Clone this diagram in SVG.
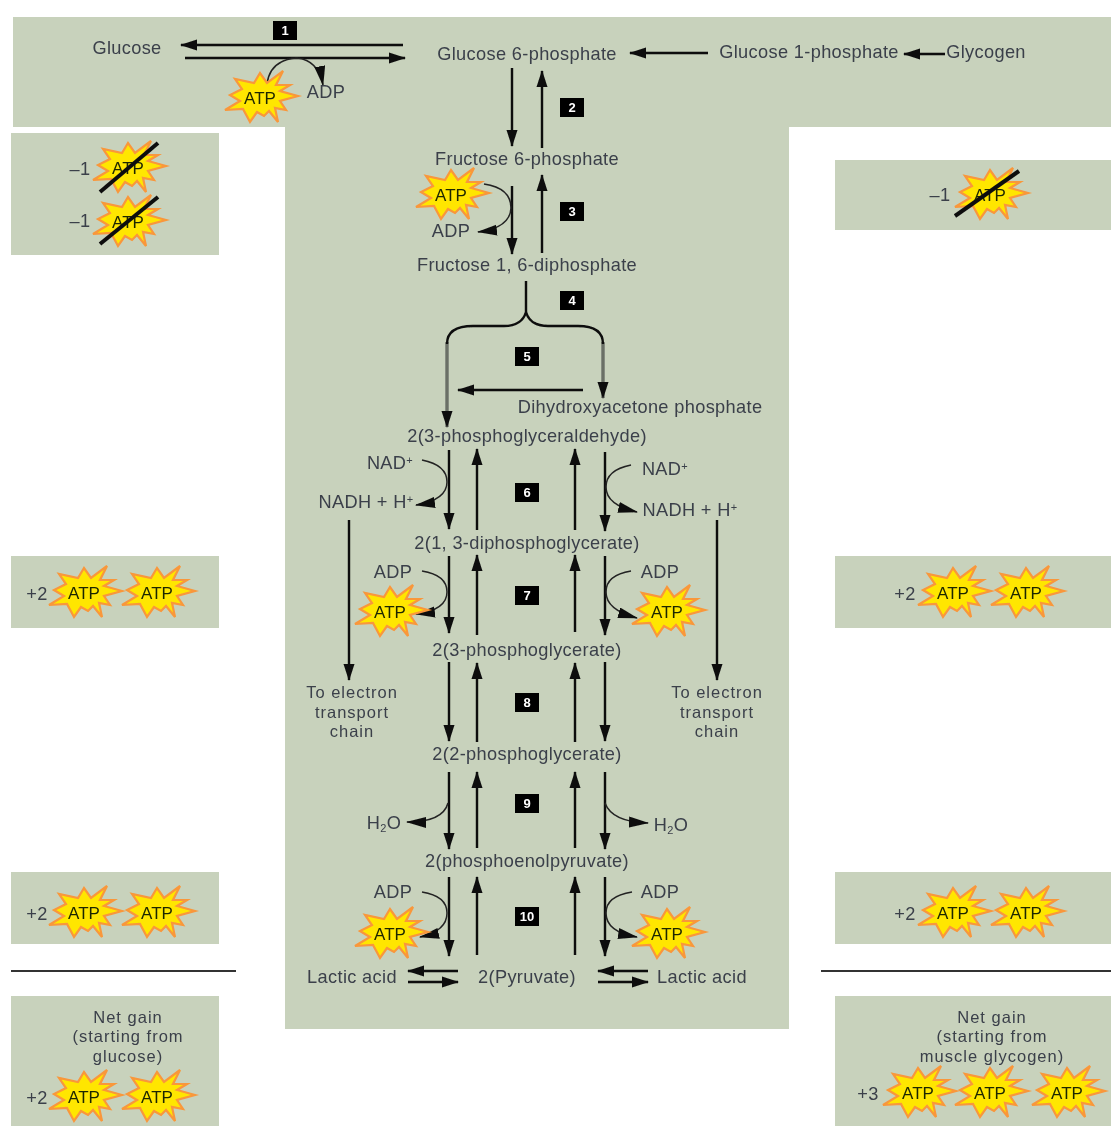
<svg xmlns="http://www.w3.org/2000/svg" width="1111" height="1126" viewBox="0 0 1111 1126">
<style>
.p{fill:#c8d2bc}
text{font-family:"Liberation Sans",Arial,sans-serif;font-size:18.2px;letter-spacing:.35px;fill:#3a3f4a;text-anchor:middle}
.t{font-size:16.5px;letter-spacing:1px}
.a{font-size:17px;letter-spacing:0;fill:#1c2600}
.n{font-size:13px;letter-spacing:0;font-weight:bold;fill:#fff}
.sq{fill:#000}
.l{fill:none;stroke:#111;stroke-width:2.4}
.g{fill:none;stroke:#6a6f66;stroke-width:3.4}
.c{fill:none;stroke:#222;stroke-width:1.5}
.s{stroke:#111;stroke-width:4}
.d{stroke:#333;stroke-width:2}
.star{fill:#ffe600;stroke:#f9973a;stroke-width:2.2;stroke-linejoin:miter}
</style>
<defs>
<marker id="m" markerUnits="userSpaceOnUse" markerWidth="17" markerHeight="12" refX="16" refY="6" orient="auto"><path d="M0,0.5L17,6L0,11.5Z" fill="#111"/></marker>
<marker id="mc" markerUnits="userSpaceOnUse" markerWidth="20" markerHeight="12" refX="19" refY="6" orient="auto"><path d="M0,0L20,6L0,11Z" fill="#111"/></marker>
<filter id="b" x="-5%" y="-5%" width="110%" height="110%"><feGaussianBlur stdDeviation="0.5"/></filter>
<polygon id="st" class="star" points="38,-2 20,-7 30,-13 16,-13 23,-27 7,-15 0,-25 -6,-15 -25,-19 -18,-9 -30,-3 -20,3 -35,12 -17,11 -10,24 -3,14 4,18 9,13 18,24 15,10 26,12 20,3"/>
</defs>
<g id="panels">
<path class="p" d="M13,17H1111V127H789V1029H285V127H13Z"/>
<rect class="p" x="11" y="133" width="208" height="122"/>
<rect class="p" x="11" y="556" width="208" height="72"/>
<rect class="p" x="11" y="872" width="208" height="72"/>
<rect class="p" x="11" y="996" width="208" height="130"/>
<rect class="p" x="835" y="160" width="276" height="70"/>
<rect class="p" x="835" y="556" width="276" height="72"/>
<rect class="p" x="835" y="872" width="276" height="72"/>
<rect class="p" x="835" y="996" width="276" height="130"/>
<line class="d" x1="11" y1="971" x2="236" y2="971"/>
<line class="d" x1="821" y1="971" x2="1111" y2="971"/>
</g>
<g filter="url(#b)">
<g id="connectors">
<path class="g" marker-end="url(#m)" d="M447,342V427"/>
<path class="g" marker-end="url(#m)" d="M603,342V398"/>
<g class="l">
<path marker-end="url(#m)" d="M403,45H181"/>
<path marker-end="url(#m)" d="M185,58H405"/>
<path marker-end="url(#m)" d="M708,53H630"/>
<path marker-end="url(#m)" d="M945,54H904"/>
<path marker-end="url(#m)" d="M512,68V146"/>
<path marker-end="url(#m)" d="M542,148V71"/>
<path marker-end="url(#m)" d="M512,186V254"/>
<path marker-end="url(#m)" d="M542,253V175"/>
<path marker-end="url(#m)" d="M583,390H458"/>
<path marker-end="url(#m)" d="M449,450V529"/>
<path marker-end="url(#m)" d="M477,530V449"/>
<path marker-end="url(#m)" d="M575,530V449"/>
<path marker-end="url(#m)" d="M605,452V531"/>
<path marker-end="url(#m)" d="M449,556V633"/>
<path marker-end="url(#m)" d="M477,635V555"/>
<path marker-end="url(#m)" d="M575,632V555"/>
<path marker-end="url(#m)" d="M605,556V635"/>
<path marker-end="url(#m)" d="M449,662V741"/>
<path marker-end="url(#m)" d="M477,742V663"/>
<path marker-end="url(#m)" d="M575,742V663"/>
<path marker-end="url(#m)" d="M605,662V741"/>
<path marker-end="url(#m)" d="M449,772V849"/>
<path marker-end="url(#m)" d="M477,848V772"/>
<path marker-end="url(#m)" d="M575,848V772"/>
<path marker-end="url(#m)" d="M605,772V849"/>
<path marker-end="url(#m)" d="M449,877V956"/>
<path marker-end="url(#m)" d="M477,955V877"/>
<path marker-end="url(#m)" d="M575,955V877"/>
<path marker-end="url(#m)" d="M605,877V956"/>
<path marker-end="url(#m)" d="M349,520V680"/>
<path marker-end="url(#m)" d="M717,520V680"/>
<path marker-end="url(#m)" d="M458,971H408"/>
<path marker-end="url(#m)" d="M408,982H458"/>
<path marker-end="url(#m)" d="M648,971H598"/>
<path marker-end="url(#m)" d="M598,982H648"/>
<path d="M526,281V312Q522,326 504,326H473Q447,326 447,344"/>
<path d="M526,312Q530,326 548,326H578Q603,326 603,344"/>
</g>
<g class="c">
<path marker-end="url(#mc)" d="M267,84Q270,60 297,58Q318,60 323,85"/>
<path marker-end="url(#mc)" d="M484,184Q511,188 511,208Q510,228 478,232"/>
<path marker-end="url(#mc)" d="M422,460Q447,465 447,482Q447,500 416,505"/>
<path marker-end="url(#mc)" d="M631,465Q606,470 606,487Q606,505 637,512"/>
<path marker-end="url(#mc)" d="M422,571Q447,575 447,592Q447,610 416,614"/>
<path marker-end="url(#mc)" d="M631,571Q606,575 606,592Q606,610 637,618"/>
<path marker-end="url(#mc)" d="M448,803Q443,822 407,822"/>
<path marker-end="url(#mc)" d="M605,803Q612,822 648,823"/>
<path marker-end="url(#mc)" d="M422,892Q447,896 447,913Q447,931 420,937"/>
<path marker-end="url(#mc)" d="M632,892Q606,896 606,913Q606,932 637,937"/>
</g>
</g>
<g id="labels" transform="translate(0,0.5)">
<text x="127" y="53">Glucose</text>
<text x="527" y="59">Glucose 6-phosphate</text>
<text x="809" y="57">Glucose 1-phosphate</text>
<text x="986" y="57">Glycogen</text>
<text x="326" y="97">ADP</text>
<text x="527" y="164">Fructose 6-phosphate</text>
<text x="451" y="236">ADP</text>
<text x="527" y="270">Fructose 1, 6-diphosphate</text>
<text x="640" y="412">Dihydroxyacetone phosphate</text>
<text x="527" y="441">2(3-phosphoglyceraldehyde)</text>
<text x="390" y="468">NAD<tspan font-size="11" dy="-5">+</tspan></text>
<text x="665" y="474">NAD<tspan font-size="11" dy="-5">+</tspan></text>
<text x="366" y="507">NADH + H<tspan font-size="11" dy="-5">+</tspan></text>
<text x="690" y="515">NADH + H<tspan font-size="11" dy="-5">+</tspan></text>
<text x="527" y="548">2(1, 3-diphosphoglycerate)</text>
<text x="393" y="577">ADP</text>
<text x="660" y="577">ADP</text>
<text x="527" y="655">2(3-phosphoglycerate)</text>
<text class="t" x="352" y="697">To electron</text>
<text class="t" x="352" y="717">transport</text>
<text class="t" x="352" y="736">chain</text>
<text class="t" x="717" y="697">To electron</text>
<text class="t" x="717" y="717">transport</text>
<text class="t" x="717" y="736">chain</text>
<text x="527" y="759">2(2-phosphoglycerate)</text>
<text x="384" y="828">H<tspan font-size="11" dy="3">2</tspan><tspan dy="-3">O</tspan></text>
<text x="671" y="830">H<tspan font-size="11" dy="3">2</tspan><tspan dy="-3">O</tspan></text>
<text x="527" y="866">2(phosphoenolpyruvate)</text>
<text x="393" y="897">ADP</text>
<text x="660" y="897">ADP</text>
<text x="352" y="982">Lactic acid</text>
<text x="527" y="982">2(Pyruvate)</text>
<text x="702" y="982">Lactic acid</text>
<text class="t" x="128" y="1022">Net gain</text>
<text class="t" x="128" y="1041.5">(starting from</text>
<text class="t" x="128" y="1061">glucose)</text>
<text class="t" x="992" y="1022">Net gain</text>
<text class="t" x="992" y="1041.5">(starting from</text>
<text class="t" x="992" y="1061">muscle glycogen)</text>
<text x="80" y="174">–1</text>
<text x="80" y="226">–1</text>
<text x="940" y="200">–1</text>
<text x="37" y="599">+2</text>
<text x="905" y="599">+2</text>
<text x="37" y="919">+2</text>
<text x="905" y="919">+2</text>
<text x="37" y="1103">+2</text>
<text x="868" y="1099">+3</text>
</g>
<g id="step-1"><rect class="sq" x="273" y="21" width="24" height="19"/><text class="n" x="285" y="35">1</text></g>
<g id="step-2"><rect class="sq" x="560" y="98" width="24" height="19"/><text class="n" x="572" y="112">2</text></g>
<g id="step-3"><rect class="sq" x="560" y="202" width="24" height="19"/><text class="n" x="572" y="216">3</text></g>
<g id="step-4"><rect class="sq" x="560" y="291" width="24" height="19"/><text class="n" x="572" y="305">4</text></g>
<g id="step-5"><rect class="sq" x="515" y="347" width="24" height="19"/><text class="n" x="527" y="361">5</text></g>
<g id="step-6"><rect class="sq" x="515" y="483" width="24" height="19"/><text class="n" x="527" y="497">6</text></g>
<g id="step-7"><rect class="sq" x="515" y="586" width="24" height="19"/><text class="n" x="527" y="600">7</text></g>
<g id="step-8"><rect class="sq" x="515" y="693" width="24" height="19"/><text class="n" x="527" y="707">8</text></g>
<g id="step-9"><rect class="sq" x="515" y="794" width="24" height="19"/><text class="n" x="527" y="808">9</text></g>
<g id="step-10"><rect class="sq" x="515" y="907" width="24" height="19"/><text class="n" x="527" y="921">10</text></g>
<g id="atp-1"><use href="#st" x="260" y="98"/><text class="a" x="260" y="104">ATP</text></g>
<g id="atp-2"><use href="#st" x="451" y="195"/><text class="a" x="451" y="201">ATP</text></g>
<g id="atp-3"><use href="#st" x="128" y="168"/><text class="a" x="128" y="174">ATP</text><line class="s" x1="100" y1="192" x2="158" y2="143"/></g>
<g id="atp-4"><use href="#st" x="128" y="222"/><text class="a" x="128" y="228">ATP</text><line class="s" x1="100" y1="244" x2="158" y2="197"/></g>
<g id="atp-5"><use href="#st" x="990" y="195"/><text class="a" x="990" y="201">ATP</text><line class="s" x1="955" y1="216" x2="1019" y2="171"/></g>
<g id="atp-6"><use href="#st" x="84" y="593"/><text class="a" x="84" y="599">ATP</text></g>
<g id="atp-7"><use href="#st" x="157" y="593"/><text class="a" x="157" y="599">ATP</text></g>
<g id="atp-8"><use href="#st" x="953" y="593"/><text class="a" x="953" y="599">ATP</text></g>
<g id="atp-9"><use href="#st" x="1026" y="593"/><text class="a" x="1026" y="599">ATP</text></g>
<g id="atp-10"><use href="#st" x="390" y="612"/><text class="a" x="390" y="618">ATP</text></g>
<g id="atp-11"><use href="#st" x="667" y="612"/><text class="a" x="667" y="618">ATP</text></g>
<g id="atp-12"><use href="#st" x="84" y="913"/><text class="a" x="84" y="919">ATP</text></g>
<g id="atp-13"><use href="#st" x="157" y="913"/><text class="a" x="157" y="919">ATP</text></g>
<g id="atp-14"><use href="#st" x="953" y="913"/><text class="a" x="953" y="919">ATP</text></g>
<g id="atp-15"><use href="#st" x="1026" y="913"/><text class="a" x="1026" y="919">ATP</text></g>
<g id="atp-16"><use href="#st" x="390" y="934"/><text class="a" x="390" y="940">ATP</text></g>
<g id="atp-17"><use href="#st" x="667" y="934"/><text class="a" x="667" y="940">ATP</text></g>
<g id="atp-18"><use href="#st" x="84" y="1097"/><text class="a" x="84" y="1103">ATP</text></g>
<g id="atp-19"><use href="#st" x="157" y="1097"/><text class="a" x="157" y="1103">ATP</text></g>
<g id="atp-20"><use href="#st" x="918" y="1093"/><text class="a" x="918" y="1099">ATP</text></g>
<g id="atp-21"><use href="#st" x="990" y="1093"/><text class="a" x="990" y="1099">ATP</text></g>
<g id="atp-22"><use href="#st" x="1067" y="1093"/><text class="a" x="1067" y="1099">ATP</text></g>
</g>
</svg>
